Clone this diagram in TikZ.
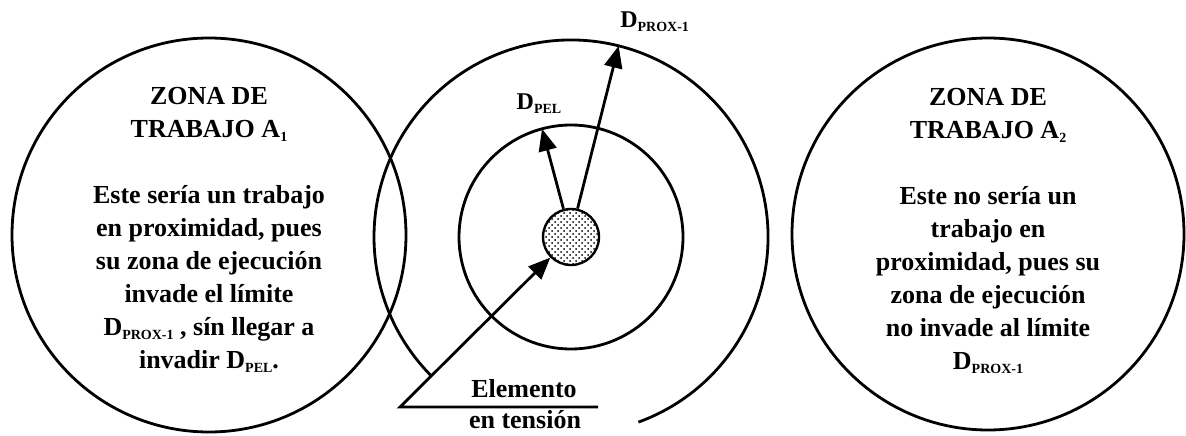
\documentclass[tikz,border=0pt]{standalone}
\usepackage{fontspec}
\setmainfont{Liberation Serif}
\usetikzlibrary{calc, arrows.meta, patterns, positioning}
\newcommand{\subidx}[1]{\raisebox{-1.8pt}{\fontsize{7}{7}\selectfont #1}}

\begin{document}
\begin{tikzpicture}[x=0.5pt, y=0.5pt,
  ring/.style={line width=1.4pt},
  zonetxt/.style={font=\bfseries\fontsize{13}{16.5}\selectfont, align=center, inner sep=0pt},
  lbl/.style={font=\bfseries\fontsize{12}{12}\selectfont, inner sep=0pt},
  arr/.style={line width=1.4pt, -{Triangle[length=11pt, width=9pt]}}]
  \useasboundingbox (0,0) rectangle (1186,435);
  \coordinate (C) at (571,198);

  % zonas de trabajo
  \draw[ring] (209,200) circle (98.5pt);
  \draw[ring] (988,201) circle (98pt);
  \node[zonetxt] (za) at (209,205) {ZONA DE\\TRABAJO A\subidx{1}\\[16.5pt]
    Este sería un trabajo\\en proximidad, pues\\su zona de ejecución\\invade el límite\\
    D\subidx{PROX-1} , sín llegar a\\invadir D\subidx{PEL}.};
  \node[zonetxt] (zb) at (988,204) {ZONA DE\\TRABAJO A\subidx{2}\\[16.5pt]
    Este no sería un\\trabajo en\\proximidad, pues su\\zona de ejecución\\no invade al límite\\
    D\subidx{PROX-1}};

  % limites D_PEL y D_PROX-1
  \draw[ring] (C) circle (56pt);
  \draw[ring] ($(C)+(-70:98.5pt)$) arc[start angle=-70, end angle=225, radius=98.5pt];
  \coordinate (pel) at ($(C)+(105:56pt)$);
  \coordinate (prox) at ($(C)+(76:98.5pt)$);

  % elemento en tension
  \node[circle, draw, line width=1.2pt, minimum size=28pt, inner sep=0pt, pattern=crosshatch dots] (obj) at (C) {};
  \coordinate (el0) at (400,28);
  \coordinate (el1) at (598,28);
  \draw[arr, line join=miter] (el1) -- (el0) -- (obj);
  \draw[arr] (obj.105) -- (pel);
  \draw[arr] (obj.77) -- (prox);

  \node[lbl, anchor=base] (dpel) at ($(pel)+(-3,19)$) {D\subidx{PEL}};
  \node[lbl, anchor=base] (dprox) at ($(prox)+(36,18)$) {D\subidx{PROX-1}};
  \node[zonetxt, anchor=base] (elem) at (524,38) {Elemento};
  \node[zonetxt, anchor=base] (tens) at (525,7) {en tensión};
\end{tikzpicture}
\end{document}
